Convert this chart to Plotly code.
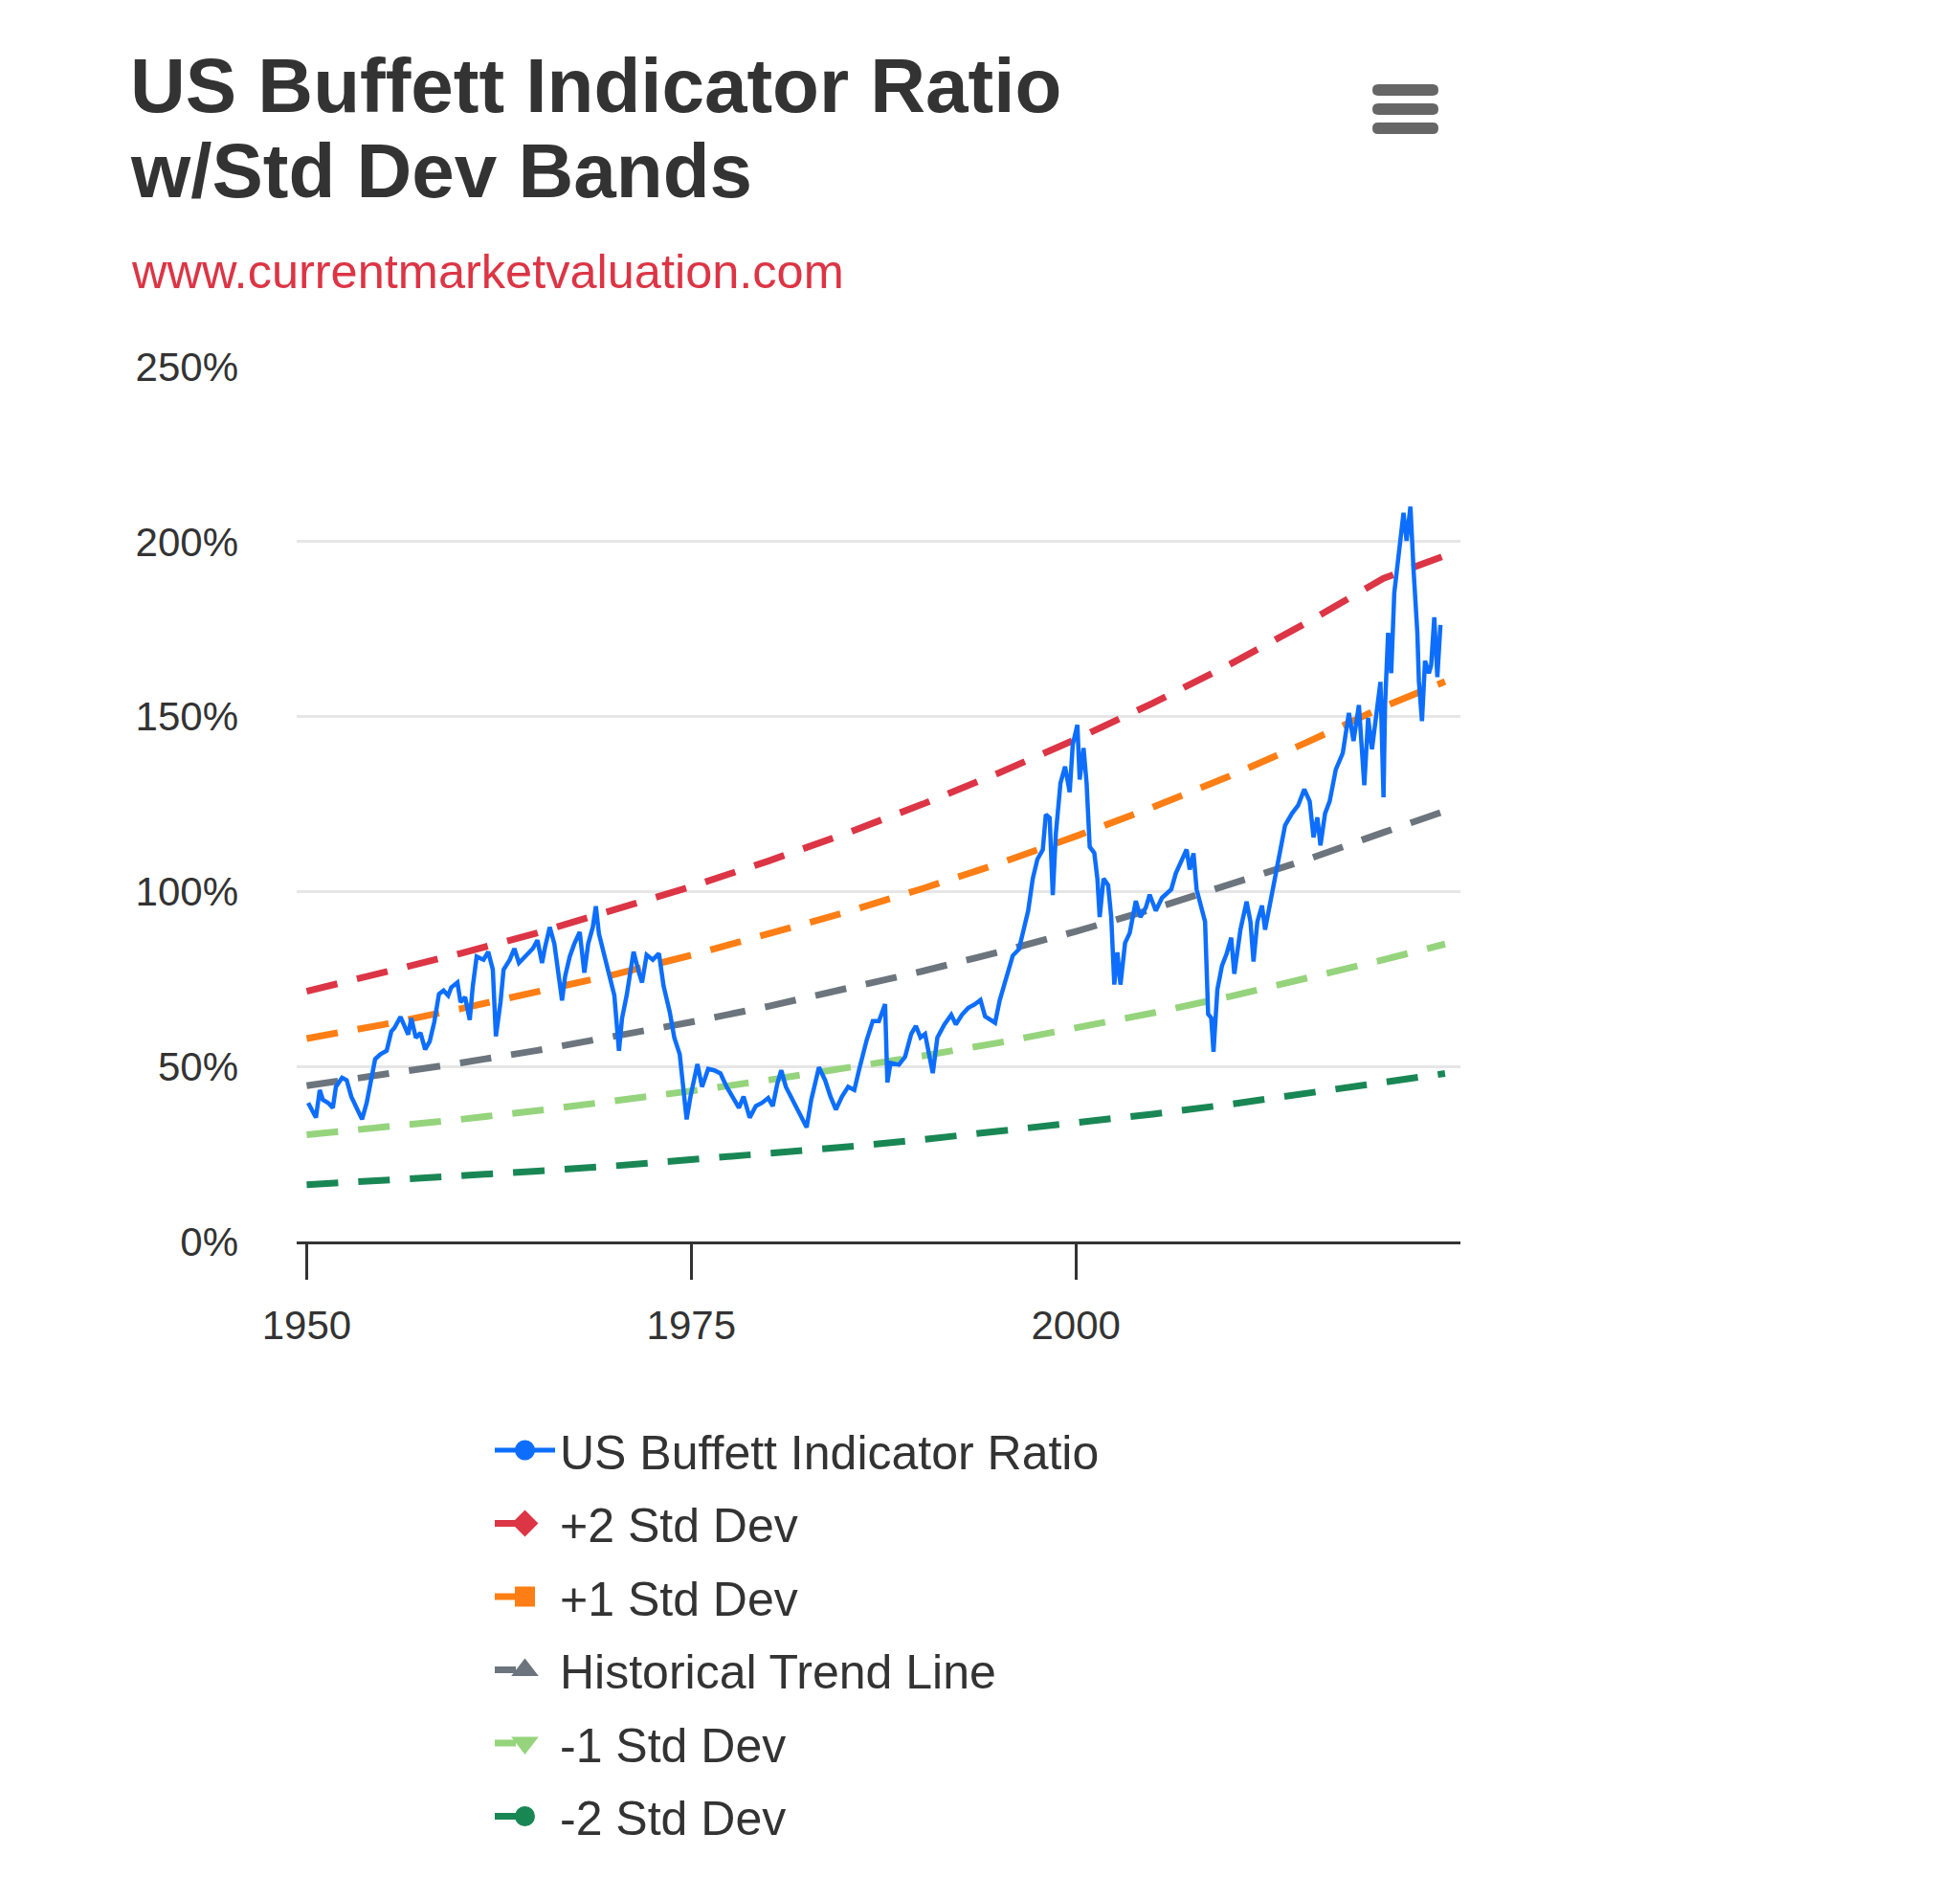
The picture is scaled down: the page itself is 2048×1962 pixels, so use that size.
import plotly.graph_objects as go

# ---------------- data ----------------
blue_years = [
    1950.1, 1950.6, 1950.85, 1951.05, 1951.4, 1951.7, 1951.9, 1952.3, 1952.6, 1952.9,
    1953.3, 1953.6, 1953.9, 1954.1, 1954.45, 1954.8, 1955.2, 1955.5, 1955.7, 1956.1,
    1956.4, 1956.6, 1956.8, 1957.1, 1957.4, 1957.7, 1958.0, 1958.3, 1958.6, 1958.9,
    1959.2, 1959.4, 1959.8, 1960.0, 1960.3, 1960.6, 1960.8, 1961.05, 1961.5, 1961.8,
    1962.1, 1962.3, 1962.6, 1962.8, 1963.2, 1963.5, 1963.8, 1964.2, 1964.7, 1965.0,
    1965.3, 1965.5, 1965.8, 1966.1, 1966.3, 1966.6, 1966.8, 1967.1, 1967.4, 1967.75,
    1968.05, 1968.3, 1968.6, 1968.8, 1969.0, 1969.3, 1969.7, 1970.0, 1970.3, 1970.5,
    1970.8, 1971.25, 1971.6, 1971.8, 1972.1, 1972.5, 1972.9, 1973.2, 1973.6, 1973.9,
    1974.25, 1974.55, 1974.7, 1974.95, 1975.4, 1975.7, 1976.1, 1976.5, 1976.9, 1977.3,
    1977.75, 1978.1, 1978.4, 1978.8, 1979.2, 1979.6, 1980.0, 1980.3, 1980.6, 1980.85,
    1981.15, 1981.6, 1982.0, 1982.5, 1982.8, 1983.3, 1983.7, 1984.05, 1984.4, 1984.8,
    1985.2, 1985.6, 1985.9, 1986.4, 1986.8, 1987.2, 1987.6, 1987.75, 1987.95, 1988.5,
    1988.9, 1989.3, 1989.6, 1989.9, 1990.2, 1990.5, 1990.7, 1991.0, 1991.45, 1991.9,
    1992.2, 1992.6, 1993.0, 1993.4, 1993.8, 1994.1, 1994.4, 1994.75, 1995.05, 1995.5,
    1995.9, 1996.3, 1996.6, 1996.9, 1997.2, 1997.5, 1997.85, 1998.05, 1998.3, 1998.5,
    1998.7, 1999.0, 1999.3, 1999.6, 1999.8, 2000.1, 2000.25, 2000.5, 2000.7, 2000.9,
    2001.2, 2001.4, 2001.55, 2001.8, 2002.1, 2002.3, 2002.5, 2002.7, 2002.9, 2003.2,
    2003.5, 2003.9, 2004.2, 2004.55, 2004.8, 2005.2, 2005.6, 2006.2, 2006.5, 2006.8,
    2007.2, 2007.4, 2007.65, 2007.85, 2008.15, 2008.4, 2008.6, 2008.8, 2008.95, 2009.2,
    2009.5, 2009.8, 2010.1, 2010.3, 2010.7, 2011.1, 2011.35, 2011.55, 2011.8, 2012.1,
    2012.3, 2012.6, 2012.9, 2013.2, 2013.6, 2014.05, 2014.45, 2014.85, 2015.2, 2015.45,
    2015.7, 2015.9, 2016.2, 2016.5, 2016.9, 2017.35, 2017.75, 2018.05, 2018.4, 2018.75,
    2019.0, 2019.25, 2019.5, 2019.8, 2020.0, 2020.1, 2020.3, 2020.5, 2020.7, 2021.05,
    2021.3, 2021.5, 2021.75, 2021.95, 2022.2, 2022.3, 2022.5, 2022.7, 2022.95, 2023.1,
    2023.3, 2023.5, 2023.7,
]
blue_ratio = [
    39.6, 35.4, 43.3, 40.5, 39.6, 38.2, 44.2, 46.8, 46.1, 41.4,
    37.7, 34.9, 39.6, 44.2, 52.1, 53.5, 54.5, 60.0, 61.0, 64.2,
    61.4, 59.1, 63.8, 58.2, 59.6, 54.9, 57.2, 62.8, 70.7, 71.7,
    70.3, 72.6, 74.0, 68.4, 69.8, 63.3, 73.0, 81.4, 80.5, 82.8,
    77.7, 58.6, 68.4, 77.7, 80.5, 83.7, 79.6, 81.4, 83.7, 86.1,
    79.6, 84.2, 89.8, 85.1, 77.7, 68.9, 75.8, 81.4, 85.1, 88.4,
    76.8, 85.1, 89.8, 95.8, 87.9, 82.3, 75.8, 70.3, 54.5, 63.8,
    70.3, 82.8, 76.8, 74.0, 81.9, 80.5, 82.3, 73.0, 65.6, 58.2,
    53.5, 40.5, 34.9, 41.4, 50.7, 44.2, 49.3, 48.9, 48.0, 44.2,
    40.5, 38.2, 41.4, 35.4, 38.7, 39.6, 41.0, 38.7, 45.2, 48.9,
    44.2, 40.5, 36.8, 32.6, 40.5, 49.8, 46.1, 41.4, 37.7, 41.4,
    44.2, 43.3, 48.9, 57.5, 63.0, 63.0, 67.8, 45.4, 51.0, 50.5,
    52.8, 59.3, 61.6, 58.3, 59.3, 51.9, 48.1, 58.3, 62.0, 64.8,
    62.0, 64.8, 66.7, 67.7, 69.0, 64.3, 63.4, 62.5, 68.9, 76.2,
    81.7, 83.5, 89.0, 94.5, 103.7, 109.2, 111.9, 122.0, 121.0, 99.0,
    116.5, 131.0, 135.7, 128.4, 142.0, 147.6, 132.0, 141.0, 131.0, 112.8,
    111.0, 103.7, 92.7, 103.7, 101.8, 92.7, 73.4, 82.6, 73.4, 85.3,
    88.1, 97.3, 92.7, 95.4, 99.1, 94.5, 98.2, 100.6, 105.2, 108.0,
    112.0, 106.3, 110.9, 100.6, 96.0, 91.4, 65.0, 63.9, 54.2, 72.0,
    78.8, 82.2, 86.8, 76.5, 89.1, 97.1, 91.4, 80.0, 91.4, 96.0,
    89.1, 96.0, 101.7, 109.7, 118.9, 122.3, 124.6, 129.2, 125.8, 115.5,
    121.2, 113.2, 122.3, 125.8, 134.9, 139.5, 151.0, 143.0, 153.3, 130.4,
    149.6, 140.7, 149.6, 159.9, 126.9, 153.3, 173.9, 162.4, 185.3, 199.1,
    208.2, 200.2, 210.0, 192.2, 173.9, 160.1, 148.7, 165.9, 162.4, 164.7,
    178.4, 161.3, 176.2,
]

band_years = [1950, 1955, 1960, 1965, 1970, 1975, 1980, 1985, 1990, 1995,
              2000, 2005, 2010, 2015, 2020, 2024]
plus2_sd = [71.5, 76.8, 82.3, 88.2, 94.6, 101.4, 108.7, 116.5, 124.9, 133.9,
            143.5, 153.8, 164.9, 176.8, 189.5, 196.0]
plus1_sd = [58.0, 62.0, 66.5, 71.2, 76.3, 81.8, 87.7, 94.0, 100.8, 108.0,
            115.8, 124.1, 133.0, 142.6, 152.8, 160.0]
trend_line = [44.5, 47.6, 51.0, 54.6, 58.5, 62.7, 67.2, 72.0, 77.2, 82.7,
              88.6, 95.0, 101.8, 109.1, 116.9, 123.0]
minus1_sd = [30.5, 32.6, 34.9, 37.4, 40.1, 43.0, 46.1, 49.4, 53.0, 56.8,
             60.9, 65.3, 70.0, 75.1, 80.5, 85.0]
minus2_sd = [16.2, 17.4, 18.7, 20.1, 21.6, 23.3, 25.1, 27.0, 29.1, 31.4,
             33.8, 36.4, 39.2, 42.2, 45.4, 48.0]

y_ticks = [0, 50, 100, 150, 200, 250]
y_tick_labels = ["0%", "50%", "100%", "150%", "200%", "250%"]
x_ticks = [1950, 1975, 2000]
x_tick_labels = ["1950", "1975", "2000"]

series_names = ["US Buffett Indicator Ratio", "+2 Std Dev", "+1 Std Dev",
                "Historical Trend Line", "-1 Std Dev", "-2 Std Dev"]
series_colors = ["#0d6efd", "#dc3545", "#fd7e14", "#6c757d", "#95d47c", "#198754"]
series_symbols = ["circle", "diamond", "square", "triangle-up", "triangle-down", "circle"]

# ---------------- layout geometry ----------------
W, H = 2048, 1962
PL, PR, PT, PB = 310, 1526, 383, 1297   # plot area in px
FONT = "Liberation Sans, Arial, Helvetica, sans-serif"


def xp(px):
    return (px - PL) / (PR - PL)


def yp(py):
    return (PB - py) / (PB - PT)


fig = go.Figure()

band_data = [plus2_sd, plus1_sd, trend_line, minus1_sd, minus2_sd]

# data traces (bands first, blue ratio on top)
for i, vals in enumerate(band_data, start=1):
    fig.add_trace(go.Scatter(
        x=band_years, y=vals, mode="lines", name=series_names[i],
        legendgroup=series_names[i], showlegend=False,
        line=dict(color=series_colors[i], width=7, dash="33px,21px"),
        hovertemplate="%{y:.1f}%<extra>" + series_names[i] + "</extra>",
    ))
fig.add_trace(go.Scatter(
    x=blue_years, y=blue_ratio, mode="lines", name=series_names[0],
    legendgroup=series_names[0], showlegend=False,
    line=dict(color=series_colors[0], width=4.5),
    hovertemplate="%{y:.1f}%<extra>" + series_names[0] + "</extra>",
))

# legend entries
for i, name in enumerate(series_names):
    fig.add_trace(go.Scatter(
        x=[None], y=[None], mode="lines+markers", name=name, legendgroup=name,
        line=dict(color=series_colors[i], width=7 if i else 5,
                  dash="solid" if i == 0 else "22px,4px,4px,100px"),
        marker=dict(symbol=series_symbols[i], size=16, color=series_colors[i],
                    line=dict(width=5, color=series_colors[i])),
    ))

annotations = [
    dict(text="<b>US Buffett Indicator Ratio</b>", x=xp(134), y=yp(90),
         font=dict(size=80, color="#333333", family=FONT)),
    dict(text="<b>w/Std Dev Bands</b>", x=xp(134), y=yp(178),
         font=dict(size=80, color="#333333", family=FONT)),
    dict(text="www.currentmarketvaluation.com", x=xp(135), y=yp(283),
         font=dict(size=50.5, color="#dc3545", family=FONT)),
]
for a in annotations:
    a.update(xref="paper", yref="paper", xanchor="left", yanchor="middle",
             showarrow=False)

# hamburger (export menu) icon: three rounded bars
shapes = []
x0, x1, r = 1434, 1503, 6
for top in (88, 108, 128):
    bot = top + 12
    mid = (top + bot) / 2
    X = lambda v: f"{xp(v):.5f}"
    Y = lambda v: f"{yp(v):.5f}"
    path = (f"M{X(x0 + r)},{Y(top)} L{X(x1 - r)},{Y(top)} "
            f"Q{X(x1)},{Y(top)} {X(x1)},{Y(mid)} Q{X(x1)},{Y(bot)} {X(x1 - r)},{Y(bot)} "
            f"L{X(x0 + r)},{Y(bot)} Q{X(x0)},{Y(bot)} {X(x0)},{Y(mid)} "
            f"Q{X(x0)},{Y(top)} {X(x0 + r)},{Y(top)} Z")
    shapes.append(dict(type="path", xref="paper", yref="paper", path=path,
                       fillcolor="#666666", line=dict(width=0)))

fig.update_layout(
    width=W, height=H,
    margin=dict(l=PL, r=W - PR, t=PT, b=H - PB, pad=0, autoexpand=False),
    paper_bgcolor="white", plot_bgcolor="white",
    font=dict(family=FONT, color="#333333"),
    annotations=annotations,
    shapes=shapes,
    showlegend=True,
    legend=dict(
        xref="paper", yref="paper",
        x=xp(512), y=yp(1476), xanchor="left", yanchor="top",
        font=dict(size=50, color="#333333", family=FONT),
        tracegroupgap=8.5, bgcolor="rgba(0,0,0,0)", itemsizing="trace",
        traceorder="grouped", itemwidth=63,
    ),
    xaxis=dict(
        range=[1949.35, 2025.0], tickvals=x_ticks, ticktext=x_tick_labels,
        showgrid=False, zeroline=False, showline=True, linecolor="#333333",
        linewidth=3, ticks="outside", ticklen=37, tickwidth=3,
        tickcolor="#333333", tickfont=dict(size=42, color="#333333"),
        ticklabelstandoff=12, tickangle=0, automargin=False,
    ),
    yaxis=dict(
        range=[0, 250], tickvals=y_ticks, ticktext=y_tick_labels,
        showgrid=True, gridcolor="#e6e6e6", gridwidth=3, zeroline=False,
        showline=False, ticks="", tickfont=dict(size=42, color="#333333"),
        ticklabelstandoff=60, automargin=False,
    ),
)

fig.write_html("out.html", config={"displayModeBar": False},
               post_script="document.body.style.margin='0';document.body.style.overflow='hidden';")
